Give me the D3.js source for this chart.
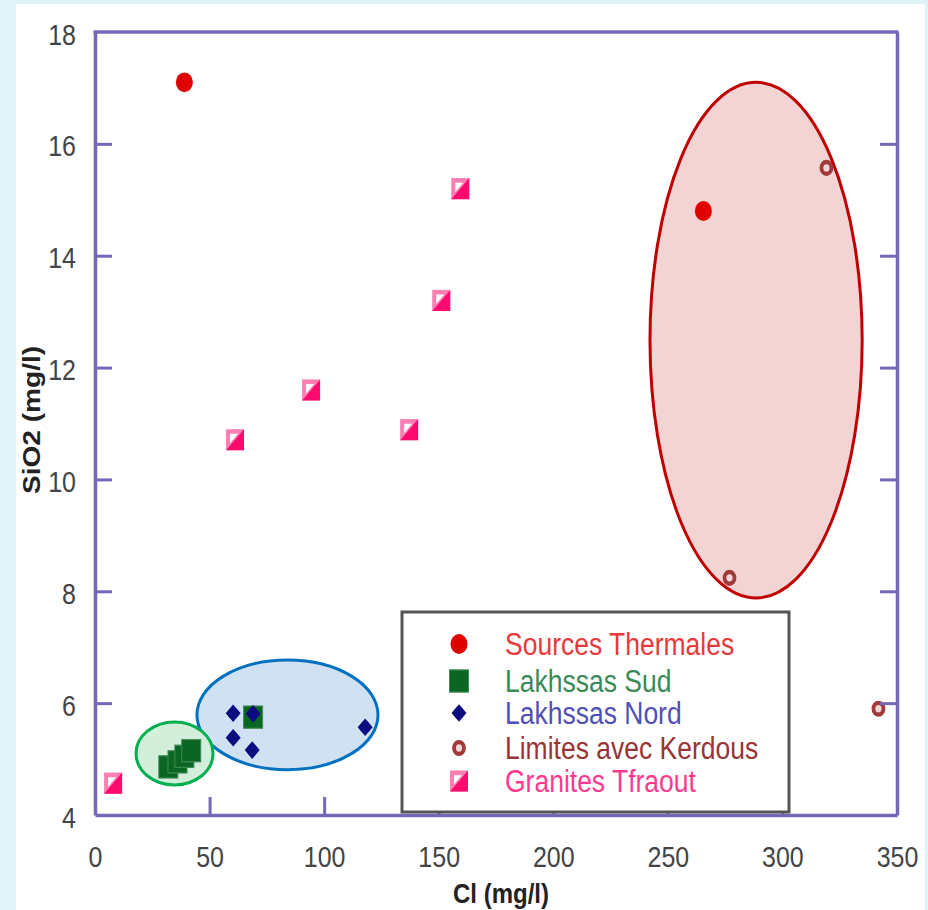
<!DOCTYPE html>
<html>
<head>
<meta charset="utf-8">
<script src="https://cdn.jsdelivr.net/npm/d3@7"></script>
<style>
  body { margin: 0; background: #e0f4f8; }
  svg { display: block; font-family: "Liberation Sans", Arial, sans-serif; }
</style>
</head>
<body>
<div id="chart"></div>
<script>
// values (Cl in mg/l, SiO2 in mg/l)
const thermCl = [39, 265.5];
const thermSi = [17.1, 14.8];
const sudCl = [32, 36, 39, 42, 69];
const sudSi = [4.86, 4.95, 5.05, 5.15, 5.75];
const nordCl = [60.3, 69, 60.3, 68.6, 117.9];
const nordSi = [5.82, 5.81, 5.38, 5.16, 5.57];
const kerdCl = [319.2, 276.9, 341.9];
const kerdSi = [15.57, 8.24, 5.9];
const granCl = [7.9, 61.1, 94.3, 137.1, 151.1, 159.4];
const granSi = [4.57, 10.71, 11.6, 10.89, 13.2, 15.2];

// group ellipses, in data units: [cx, cy, rx, ry]
const ellRed = [288.5, 12.49, 46.3, 4.61];
const ellBlue = [84, 5.79, 39.5, 0.98];
const ellGreen = [34.7, 5.1, 16.8, 0.563];

const seriesNames = ['Sources Thermales', 'Lakhssas Sud', 'Lakhssas Nord', 'Limites avec Kerdous', 'Granites Tfraout'];
const xTicks = [0, 50, 100, 150, 200, 250, 300, 350];
const yTicks = [4, 6, 8, 10, 12, 14, 16, 18];

const W = 928, H = 910;
const SY = 1.17; // the picture is a bit stretched vertically
const axisCol = '#7468b8';

const svg = d3.select('#chart').append('svg')
    .attr('width', W)
    .attr('height', H);

svg.append('rect')
    .attr('x', 16).attr('y', 4)
    .attr('width', 909).attr('height', H - 4)
    .attr('fill', '#fff');

const x = d3.scaleLinear().domain([0, 350]).range([95, 897]);
const y = d3.scaleLinear().domain([4, 18]).range([815, 32]);

// ellipses (under the points)
function ellipse(e, fill, stroke) {
    svg.append('ellipse')
        .attr('cx', x(e[0]))
        .attr('cy', y(e[1]))
        .attr('rx', x(e[0] + e[2]) - x(e[0]))
        .attr('ry', y(e[1]) - y(e[1] + e[3]))
        .attr('fill', fill)
        .attr('stroke', stroke)
        .attr('stroke-width', 3);
}
ellipse(ellRed, '#f2d4d4', '#c00000');
ellipse(ellBlue, '#d0e2f2', '#0070c0');
ellipse(ellGreen, '#d3efdc', '#00b050');

// markers
const markers = {
    therm: g => {
        g.append('circle').attr('r', 8.5).attr('fill', '#e00000');
    },
    sud: g => {
        g.append('rect').attr('x', -9.5).attr('y', -9.5).attr('width', 19).attr('height', 19)
            .attr('fill', '#0b6623').attr('stroke', '#3f8a55').attr('stroke-width', 1);
    },
    nord: g => {
        g.append('path').attr('d', 'M0,-7.5L7.5,0L0,7.5L-7.5,0Z').attr('fill', '#0c0c80');
        g.append('circle').attr('r', 5.2).attr('fill', '#0c0c80');
    },
    kerd: g => {
        g.append('circle').attr('r', 5).attr('fill', '#f3d6d6')
            .attr('stroke', '#a33a3a').attr('stroke-width', 3.8);
    },
    gran: g => {
        g.append('rect').attr('x', -9).attr('y', -9).attr('width', 18).attr('height', 18)
            .attr('fill', '#ff7fb2');
        g.append('path').attr('d', 'M9,-9L9,9L-9,9Z').attr('fill', '#ff0a6e');
        g.append('path').attr('d', 'M-5,-5L3,-5L-5,3Z').attr('fill', '#fff');
    }
};

function plotSeries(xs, ys, key) {
    const pts = xs.map((v, i) => [v, ys[i]]);
    svg.append('g')
        .selectAll('g')
        .data(pts)
        .join('g')
        .attr('transform', d => `translate(${x(d[0])},${y(d[1])}) scale(1,${SY})`)
        .each(function () { markers[key](d3.select(this)); });
}
plotSeries(granCl, granSi, 'gran');
plotSeries(sudCl, sudSi, 'sud');
plotSeries(nordCl, nordSi, 'nord');
plotSeries(kerdCl, kerdSi, 'kerd');
plotSeries(thermCl, thermSi, 'therm');

// axes
const gx = svg.append('g')
    .attr('transform', `translate(0,${y(4)})`)
    .call(d3.axisBottom(x).tickValues(xTicks).tickSizeInner(-18).tickSizeOuter(0));
const gy = svg.append('g')
    .attr('transform', `translate(${x(0)},0)`)
    .call(d3.axisLeft(y).tickValues(yTicks).tickSizeInner(-17).tickSizeOuter(0));
const gr = svg.append('g')
    .attr('transform', `translate(${x(350)},0)`)
    .call(d3.axisRight(y).tickValues(yTicks).tickSizeInner(-17).tickSizeOuter(0).tickFormat(''));
svg.append('line')
    .attr('x1', x(0) - 1.5).attr('x2', x(350) + 1.5)
    .attr('y1', y(18)).attr('y2', y(18))
    .attr('stroke', axisCol).attr('stroke-width', 3.5);

[gx, gy, gr].forEach(g => {
    g.select('.domain').attr('stroke', axisCol).attr('stroke-width', 3.5);
    g.selectAll('.tick line').attr('stroke', axisCol).attr('stroke-width', 3);
    g.selectAll('.tick text')
        .attr('fill', '#444')
        .attr('font-size', 25)
        .attr('font-family', '"Liberation Sans", Arial, sans-serif')
        .attr('x', 0).attr('y', 0).attr('dy', null);
});
gx.selectAll('.tick text').attr('transform', `translate(0,52) scale(1,${SY})`);
gy.selectAll('.tick text').attr('transform', `translate(-19,12) scale(1,${SY})`);
gy.selectAll('.tick line').filter(d => d === 4 || d === 18).remove();
gr.selectAll('.tick line').filter(d => d === 4 || d === 18).remove();
gx.selectAll('.tick line').filter(d => d === 0 || d === 350).remove();

// axis titles
svg.append('text')
    .attr('transform', `translate(${(x(0) + x(350)) / 2 + 5},903) scale(1,${SY})`)
    .attr('text-anchor', 'middle')
    .attr('font-size', 24)
    .attr('font-weight', 'bold')
    .attr('fill', '#222')
    .text('Cl (mg/l)');
svg.append('text')
    .attr('transform', `translate(40,420) rotate(-90) scale(${SY},1)`)
    .attr('text-anchor', 'middle')
    .attr('font-size', 24)
    .attr('font-weight', 'bold')
    .attr('fill', '#222')
    .text('SiO2 (mg/l)');

// legend
const legend = svg.append('g');
legend.append('rect')
    .attr('x', 402).attr('y', 612)
    .attr('width', 387).attr('height', 200)
    .attr('fill', '#fff')
    .attr('stroke', '#555')
    .attr('stroke-width', 3);

const legKeys = ['therm', 'sud', 'nord', 'kerd', 'gran'];
const legCols = ['#e8383a', '#3a8a58', '#5050b8', '#9a3434', '#ff3a8e'];
const legRows = [644, 681, 713, 748, 781];

seriesNames.forEach((name, i) => {
    const m = legend.append('g')
        .attr('transform', `translate(459,${legRows[i]}) scale(1,${SY})`);
    markers[legKeys[i]](m);
    legend.append('text')
        .attr('transform', `translate(505,${legRows[i] + 11}) scale(1,${SY})`)
        .attr('font-size', 26.5)
        .attr('fill', legCols[i])
        .text(name);
});
</script>
</body>
</html>
